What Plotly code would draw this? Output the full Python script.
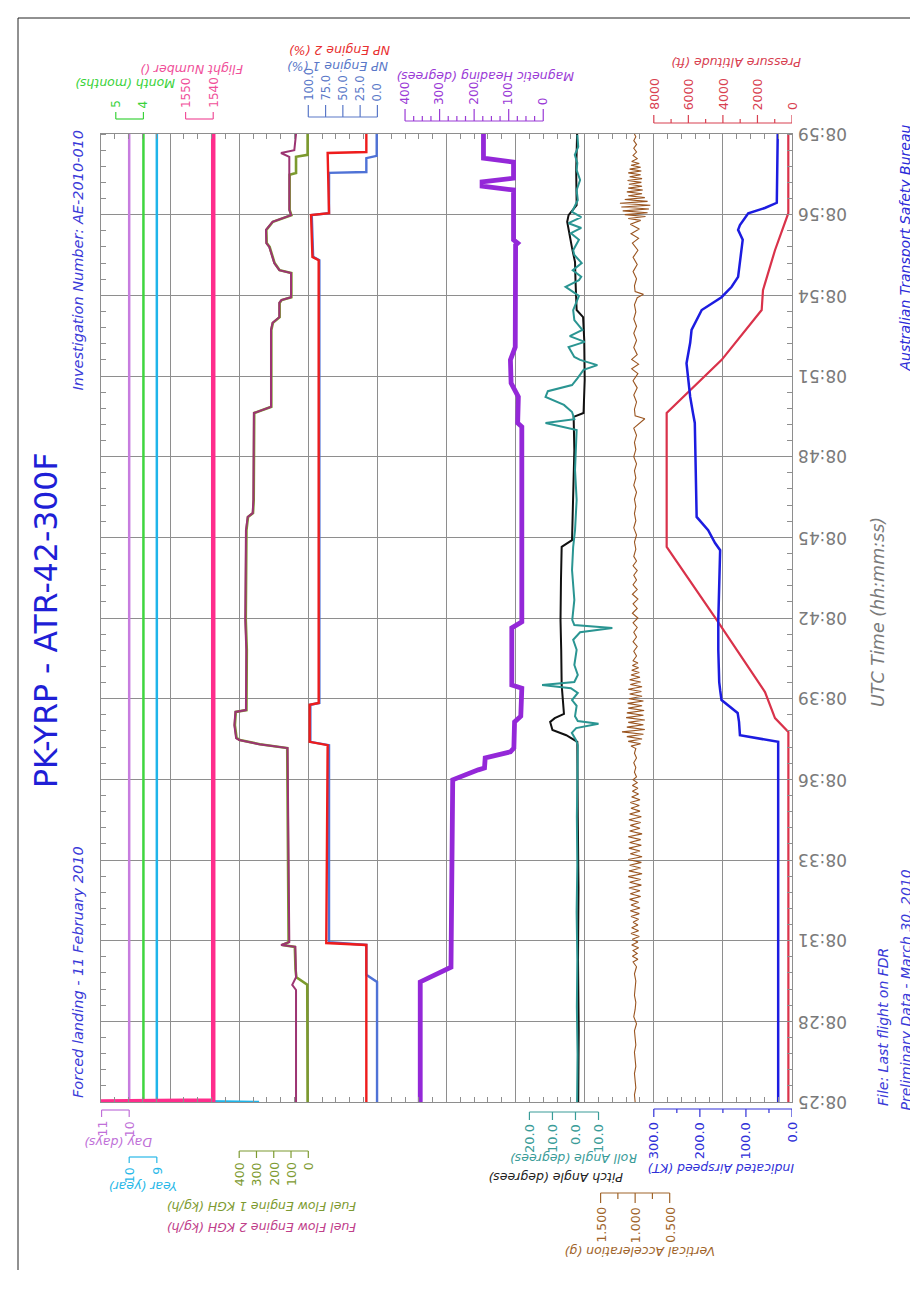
import plotly.graph_objects as go

# ---------------- time axis (seconds after 08:25) ----------------
TIME_TICKS_S = [0, 170, 340, 510, 680, 850, 1020, 1190, 1360, 1530, 1700, 1870, 2040]
TIME_LABELS = ["08:25", "08:28", "08:31", "08:33", "08:36", "08:39", "08:42",
               "08:45", "08:48", "08:51", "08:54", "08:56", "08:59"]

# ---------------- recorded parameters: (seconds, value) ----------------
DAY_DAYS = [(0, 10), (2040, 10)]
YEAR_YEAR = [(0, 5.3), (3, 9), (2040, 9)]
MONTH_MONTHS = [(0, 4), (2040, 4)]
FLIGHT_NUMBER = [(0, 1600), (3, 1540), (2040, 1540)]

FUEL_FLOW_ENG1 = [(0, 4), (247, 6), (263, 69), (280, 74), (327, 78), (331, 150), (337, 114),
                  (426, 115), (636, 121), (746, 122), (754, 280), (763, 396), (767, 415),
                  (794, 425), (822, 420), (826, 358), (953, 356), (1016, 362), (1205, 358),
                  (1233, 349), (1241, 320), (1269, 316), (1452, 313), (1458, 270), (1465, 214),
                  (1627, 214), (1642, 205), (1654, 166), (1684, 166), (1690, 154), (1696, 98),
                  (1747, 98), (1753, 166), (1768, 195), (1802, 224), (1810, 241), (1838, 243),
                  (1855, 205), (1863, 137), (1869, 98), (1880, 108), (1954, 108), (1958, 71),
                  (1992, 71), (1996, 4), (2040, 4)]
FUEL_FLOW_ENG2 = [(0, 71), (236, 71), (247, 93), (263, 71), (327, 75), (331, 158), (337, 110),
                  (426, 113), (636, 119), (746, 120), (754, 284), (763, 400), (767, 418),
                  (794, 428), (822, 422), (826, 361), (953, 359), (1016, 365), (1205, 361),
                  (1233, 351), (1241, 322), (1269, 318), (1452, 315), (1458, 272), (1465, 216),
                  (1627, 216), (1642, 207), (1654, 168), (1684, 168), (1690, 156), (1696, 100),
                  (1747, 100), (1753, 168), (1768, 197), (1802, 226), (1810, 243), (1838, 245),
                  (1855, 207), (1863, 139), (1869, 100), (1880, 110), (1985, 110), (1992, 110),
                  (2000, 158), (2006, 81), (2040, 71)]

NP_ENG1 = [(0, 0.5), (253, 0.5), (268, 16), (331, 16), (337, 70), (752, 70), (759, 97),
           (837, 97), (841, 84), (1774, 84), (1781, 93), (1869, 95), (1873, 70), (1958, 70),
           (1960, 16), (1989, 16), (1994, 1), (2040, 1)]
NP_ENG2 = [(0, 16), (331, 16), (335, 74), (752, 72), (759, 98), (837, 98), (841, 85),
           (1774, 85), (1781, 94), (1869, 96), (1873, 70), (2000, 72), (2002, 16), (2040, 16)]

MAG_HEADING = [(0, 356), (253, 356), (284, 267), (400, 265), (550, 263), (674, 262), (679, 262),
               (700, 188), (704, 170), (725, 168), (738, 95), (746, 85), (801, 83), (813, 65),
               (872, 62), (879, 91), (999, 91), (1012, 62), (1200, 62), (1423, 62), (1431, 74),
               (1486, 72), (1515, 93), (1564, 95), (1591, 81), (1806, 80), (1810, 74), (1817, 86),
               (1922, 86), (1930, 177), (1939, 177), (1947, 86), (1981, 86), (1989, 173), (2040, 173)]

PITCH_DEG = [(0, -1.2), (150, -1.4), (300, -1.1), (450, -1.3), (600, -1.0), (759, -0.8), (773, 4),
             (784, 10), (801, 11), (809, 9), (818, 5), (847, 5.5), (879, 6), (953, 6.2), (1016, 6.5),
             (1100, 6.3), (1170, 6.0), (1184, 1.5), (1269, 1.0), (1374, 0.5), (1444, 0.8),
             (1452, -3.5), (1522, -4), (1606, -3.8), (1654, -3.3), (1669, -0.5), (1732, 0),
             (1770, 0.2), (1800, 1.5), (1855, 3.6), (1869, 3.0), (1890, -0.5), (1964, -0.3), (2040, -0.7)]

ROLL_DEG = [(0, -0.7), (100, -0.9), (200, -0.6), (300, -0.8), (400, -0.5), (500, -0.8), (600, -0.6),
            (700, -0.7), (752, -1.0), (763, -0.2), (778, 1.6), (788, -0.3), (797, -10), (803, -1.0),
            (813, 0.2), (835, -0.5), (847, 1.5), (862, -1.0), (872, 2), (879, 14.5), (885, 0.5),
            (900, -1.0), (921, 0.5), (953, -0.5), (974, 1.0), (990, -2), (999, -16), (1005, 0.5),
            (1016, 1.4), (1058, 0.5), (1121, 1.5), (1170, 1.0), (1205, 0.2), (1269, -0.5), (1332, 0.2),
            (1416, -0.5), (1431, 13), (1439, 0.5), (1454, 1.5), (1469, 5), (1486, 13), (1498, 12),
            (1511, 1.5), (1526, -1), (1543, -3.5), (1553, -9.5), (1564, -2), (1570, 0.5), (1591, 3),
            (1602, -4), (1614, 2.5), (1627, -3), (1648, 0.5), (1669, 1.0), (1699, -1.5), (1718, 4.3),
            (1732, -1.5), (1739, -2.5), (1753, 1.2), (1768, -2.7), (1785, 0.5), (1795, 1.0),
            (1817, -1.5), (1831, 2.0), (1842, -2.5), (1852, 3.0), (1865, -2.5), (1876, 1.5),
            (1886, 0.5), (1901, -1.0), (1922, -0.5), (1943, -2.0), (1964, -0.5), (1979, -0.8),
            (1996, 0.3), (2013, -1.2), (2038, -0.8)]

VERT_ACCEL_G = [
    (0, 1.00), (15, 1.01), (30, 0.99), (45, 1.00), (60, 1.01), (75, 0.99), (90, 1.00), (105, 1.01),
    (120, 0.99), (135, 1.00), (150, 1.01), (165, 0.98), (180, 1.02), (195, 1.00), (210, 0.99),
    (225, 1.01), (240, 1.00), (255, 0.99), (270, 1.01), (285, 0.98),
    (295, 1.03), (301, 0.96), (307, 1.04), (313, 0.97), (319, 1.03), (325, 0.95), (331, 1.05),
    (337, 0.96), (343, 1.04), (349, 0.94), (355, 1.06), (361, 0.95), (367, 1.05), (373, 0.96),
    (379, 1.03), (385, 0.95), (391, 1.06), (397, 0.94), (403, 1.07), (409, 0.93), (415, 1.06),
    (421, 0.95), (427, 1.08), (433, 0.92), (439, 1.07), (445, 0.93), (451, 1.09), (457, 0.91),
    (463, 1.08), (469, 0.92), (475, 1.10), (481, 0.90), (487, 1.09), (493, 0.92), (499, 1.08),
    (505, 0.91), (511, 1.10), (517, 0.90), (523, 1.07), (529, 0.93), (535, 1.09), (541, 0.91),
    (547, 1.08), (553, 0.92), (559, 1.10), (565, 0.90), (571, 1.08), (577, 0.93), (583, 1.07),
    (589, 0.92), (595, 1.09), (601, 0.91), (607, 1.08), (613, 0.93), (619, 1.06), (625, 0.94),
    (631, 1.07), (637, 0.93), (643, 1.05), (649, 0.95), (655, 1.04), (661, 0.96), (667, 1.04),
    (673, 0.97), (679, 1.03), (685, 0.98),
    (695, 1.01), (705, 0.99), (715, 1.02), (725, 0.98), (735, 1.01), (745, 0.99),
    (750, 1.06), (755, 0.92), (760, 1.10), (765, 0.90), (770, 1.12), (775, 0.88), (780, 1.19),
    (785, 0.86), (790, 1.12), (795, 0.88), (800, 1.10), (805, 0.86), (810, 1.13), (815, 0.88),
    (820, 1.12), (825, 0.87), (830, 1.10), (835, 0.90), (840, 1.11), (845, 0.88), (850, 1.09),
    (855, 0.90), (860, 1.08), (865, 0.91), (870, 1.10), (875, 0.90), (880, 1.07), (885, 0.92),
    (890, 1.08), (895, 0.93), (900, 1.06), (905, 0.94), (910, 1.05), (915, 0.95), (920, 1.04),
    (925, 0.96), (930, 1.03),
    (940, 0.98), (950, 1.02), (960, 0.97), (970, 1.03), (980, 0.98), (990, 1.02), (1000, 0.97),
    (1010, 1.03), (1020, 0.96), (1030, 1.04), (1040, 0.97), (1050, 1.03), (1060, 0.96), (1070, 1.04),
    (1080, 0.97), (1090, 1.03), (1100, 0.98), (1110, 1.02), (1120, 0.97), (1130, 1.03), (1140, 0.98),
    (1150, 1.02), (1165, 0.99), (1180, 1.01), (1195, 0.98), (1210, 1.02), (1225, 0.99), (1240, 1.01),
    (1255, 0.99), (1270, 1.01), (1285, 0.98), (1300, 1.02), (1315, 0.99), (1330, 1.01), (1345, 0.98),
    (1360, 1.02), (1375, 0.99), (1390, 1.01), (1405, 0.98), (1420, 1.02), (1440, 0.86), (1446, 1.00),
    (1460, 1.01), (1475, 0.98), (1490, 1.02), (1505, 0.97), (1520, 1.03), (1535, 0.96), (1545, 1.05),
    (1555, 0.95), (1565, 1.05), (1575, 0.97), (1590, 1.02), (1605, 0.98), (1620, 1.02), (1635, 0.98),
    (1650, 1.02), (1665, 0.99), (1680, 1.01), (1695, 0.97), (1702, 0.88), (1708, 1.00), (1720, 1.01),
    (1735, 0.98), (1750, 1.03), (1765, 0.97), (1780, 1.03), (1795, 0.96), (1810, 1.04), (1820, 0.95),
    (1830, 1.06), (1840, 0.94), (1850, 1.07), (1858, 0.92),
    (1862, 1.10), (1866, 0.85), (1870, 1.15), (1874, 0.82), (1878, 1.18), (1882, 0.80), (1886, 1.20),
    (1890, 0.78), (1894, 1.22), (1898, 0.82), (1902, 1.15), (1906, 0.86),
    (1910, 1.10), (1914, 0.90), (1918, 1.12), (1922, 0.89), (1926, 1.10), (1930, 0.90), (1934, 1.09),
    (1938, 0.91), (1942, 1.11), (1946, 0.90), (1950, 1.08), (1954, 0.92), (1958, 1.10), (1962, 0.91),
    (1966, 1.08), (1970, 0.92), (1974, 1.06), (1978, 0.94), (1982, 1.05),
    (1988, 0.97), (1995, 1.03), (2002, 0.98), (2010, 1.02), (2018, 0.98), (2026, 1.02), (2034, 0.99),
    (2040, 1.01)]

AIRSPEED_KT = [(0, 30), (759, 30), (773, 113), (801, 115), (820, 118), (847, 153), (868, 156),
               (885, 158), (953, 160), (1016, 160), (1163, 156), (1178, 167), (1205, 182), (1220, 196),
               (1233, 207), (1332, 209), (1431, 211), (1452, 215), (1486, 221), (1557, 229), (1600, 221),
               (1627, 218), (1669, 196), (1696, 153), (1718, 131), (1739, 117), (1795, 109), (1817, 107),
               (1838, 117), (1848, 113), (1873, 95), (1884, 59), (1895, 33), (2040, 31)]

PRESSURE_ALT_FT = [(0, 210), (780, 210), (809, 984), (837, 1270), (864, 1563), (1016, 4360),
                   (1170, 7255), (1452, 7255), (1564, 4070), (1669, 1755), (1711, 1680), (1795, 985),
                   (1873, 214), (2040, 214)]

# ---------------- scale brackets: tick values and labels ----------------
MONTH_TICKS, MONTH_LABELS = [5, 4], ["5", "4"]
FLIGHT_TICKS, FLIGHT_LABELS = [1550, 1540], ["1550", "1540"]
NP_TICKS, NP_LABELS = [100, 75, 50, 25, 0], ["100.0", "75.0", "50.0", "25.0", "0.0"]
HDG_TICKS, HDG_LABELS = [400, 300, 200, 100, 0], ["400", "300", "200", "100", "0"]
HDG_MINOR = [375, 350, 325, 275, 250, 225, 175, 150, 125, 75, 50, 25]
ALT_TICKS, ALT_LABELS = [8000, 6000, 4000, 2000, 0], ["8000", "6000", "4000", "2000", "0"]
ALT_MINOR = [7000, 5000, 3000, 1000]
DAY_TICKS, DAY_LABELS = [11, 10], ["11", "10"]
YEAR_TICKS, YEAR_LABELS = [10, 9], ["10", "9"]
FF_TICKS, FF_LABELS = [400, 300, 200, 100, 0], ["400", "300", "200", "100", "0"]
ROLL_TICKS, ROLL_LABELS = [20, 10, 0, -10], ["20.0", "10.0", "0.0", "10.0"]
IAS_TICKS, IAS_LABELS = [300, 200, 100, 0], ["300.0", "200.0", "100.0", "0.0"]
IAS_MINOR = [250, 150, 50]
VA_TICKS, VA_LABELS = [1.5, 1.0, 0.5], ["1.500", "1.000", "0.500"]
VA_MINOR = [1.25, 0.75]

# ---------------- layout helpers (page pixel -> paper) ----------------
OFF = 8                      # page body margin around the figure
W, H = 918 - OFF, 1262
PL, PR, PT, PB = 101, 792, 134, 1102   # plot area in page pixels


def py(y):
    return (PB - y) / (PB - PT)


def px(x):
    return (x - PL) / (PR - PL)


FONT = "DejaVu Sans"
GRID = "#8e8e8e"

fig = go.Figure()

# base axis "x" = pressure altitude (also carries the grid); others overlay it
AXES = {
    "x2": [11.02, -13.98],   # day
    "x3": [11.02, -13.98],   # year
    "x4": [5.535, -19.465],  # month
    "x5": [1580.6, 1330.6],  # flight number
    "x6": [1200, -2800],     # fuel flow
    "x7": [400, -600],       # NP
    "x8": [1280, -720],      # heading
    "x9": [206, -94],        # roll / pitch
    "x10": [8.73, -1.27],    # vertical acceleration
    "x11": [1500, 0],        # airspeed
}

TRACES = [
    (PRESSURE_ALT_FT, "x", None, 0),
    (DAY_DAYS, "x2", "#c77ddf", 2.5),
    (MONTH_MONTHS, "x4", "#3fd63f", 2.5),
    (YEAR_YEAR, "x3", "#1fb5ea", 2.5),
    (FLIGHT_NUMBER, "x5", "#ff2d8c", 4.5),
    (FUEL_FLOW_ENG1, "x6", "#7c9a2e", 2.6),
    (FUEL_FLOW_ENG2, "x6", "#9c3472", 2.0),
    (NP_ENG1, "x7", "#4f72d6", 2.4),
    (NP_ENG2, "x7", "#ee1c1c", 2.4),
    (MAG_HEADING, "x8", "#9428d8", 4.8),
    (PITCH_DEG, "x9", "#111111", 2.0),
    (ROLL_DEG, "x9", "#2a9592", 2.0),
    (VERT_ACCEL_G, "x10", "#9a5520", 1.1),
    (AIRSPEED_KT, "x11", "#1c1ce0", 2.5),
    (PRESSURE_ALT_FT, "x", "#d9324a", 2.2),
]

for data, ax, color, width in TRACES:
    t = [p[0] for p in data]
    v = [p[1] for p in data]
    if color is None:
        # base subplot carrier (invisible); the visible altitude copy is drawn last
        fig.add_trace(go.Scatter(x=v, y=t, xaxis=ax, yaxis="y", mode="lines",
                                 line=dict(color="rgba(0,0,0,0)", width=0.1),
                                 hoverinfo="skip", showlegend=False))
        continue
    fig.add_trace(go.Scatter(x=v, y=t, xaxis=ax, yaxis="y", mode="lines",
                             line=dict(color=color, width=width), hoverinfo="skip",
                             showlegend=False))

layout = dict(
    width=W, height=H,
    margin=dict(l=PL - OFF, r=(W + OFF) - PR, t=PT - OFF, b=(H + OFF) - PB, pad=0),
    paper_bgcolor="white", plot_bgcolor="rgba(0,0,0,0)", showlegend=False,
    xaxis=dict(range=[40000, 0], tickmode="linear", tick0=0, dtick=4000, showgrid=True,
               gridcolor=GRID, gridwidth=1, showticklabels=False, ticks="",
               showline=True, linecolor=GRID, linewidth=1, mirror="allticks", zeroline=False,
               minor=dict(tick0=0, dtick=800, ticks="inside", ticklen=5, tickcolor=GRID,
                          showgrid=False)),
    yaxis=dict(range=[0, 2040], tickmode="array", tickvals=TIME_TICKS_S, showgrid=True,
               gridcolor=GRID, gridwidth=1, showticklabels=False, ticks="",
               showline=True, linecolor=GRID, linewidth=1, mirror="allticks", zeroline=False,
               minor=dict(tick0=0, dtick=34, ticks="inside", ticklen=5, tickcolor=GRID,
                          showgrid=False)),
)
for ax, rng in AXES.items():
    layout["xaxis" + ax[1:]] = dict(range=rng, overlaying="x", visible=False, anchor="y")
fig.update_layout(**layout)

shapes = []
annotations = []

# scale brackets: (axis, ticks, labels, minor, line_y, tick_y, minor_y, label_y, top?, color, size)
SCALES = [
    ("x4", MONTH_TICKS, MONTH_LABELS, [], 119, 112, None, 110, True, "#3ad23a", 12),
    ("x5", FLIGHT_TICKS, FLIGHT_LABELS, [], 119, 112, None, 110, True, "#f0509a", 12),
    ("x7", NP_TICKS, NP_LABELS, [], 117, 105, None, 103, True, "#5a78c8", 11.5),
    ("x8", HDG_TICKS, HDG_LABELS, HDG_MINOR, 121, 109, 116, 107, True, "#9a3ad6", 12),
    ("x", ALT_TICKS, ALT_LABELS, ALT_MINOR, 123, 115, 119, 112, True, "#d84050", 12.5),
    ("x2", DAY_TICKS, DAY_LABELS, [], 1110, 1117, None, 1119, False, "#c070d8", 12.5),
    ("x3", YEAR_TICKS, YEAR_LABELS, [], 1157, 1163, None, 1165, False, "#28b8e8", 12.5),
    ("x6", FF_TICKS, FF_LABELS, [], 1151, 1158, None, 1160, False, "#7d9a30", 12.5),
    ("x9", ROLL_TICKS, ROLL_LABELS, [], 1112, 1120, None, 1122, False, "#3a9c98", 13),
    ("x11", IAS_TICKS, IAS_LABELS, IAS_MINOR, 1109, 1117, 1113, 1120, False, "#3030d8", 13),
    ("x10", VA_TICKS, VA_LABELS, VA_MINOR, 1193, 1203, 1199, 1205, False, "#a0642a", 12.5),
]

for ax, ticks, labels, minor, ly, ty, my, lab_y, top, color, size in SCALES:
    shapes.append(dict(type="line", xref=ax, yref="paper", x0=ticks[0], x1=ticks[-1],
                       y0=py(ly), y1=py(ly), line=dict(color=color, width=1.2)))
    for tv, tl in zip(ticks, labels):
        shapes.append(dict(type="line", xref=ax, yref="paper", x0=tv, x1=tv,
                           y0=py(ly), y1=py(ty), line=dict(color=color, width=1.2)))
        annotations.append(dict(x=tv, xref=ax, y=py(lab_y), yref="paper", text=tl,
                                showarrow=False, textangle=-90, xanchor="center",
                                yanchor="bottom" if top else "top",
                                font=dict(family=FONT, size=size, color=color)))
    for mv in minor:
        shapes.append(dict(type="line", xref=ax, yref="paper", x0=mv, x1=mv,
                           y0=py(ly), y1=py(my), line=dict(color=color, width=1.2)))

# axis titles (upside down)
TITLES = [
    ("Month (months)", 125, 84, "#3ad23a"),
    ("Flight Number ()", 192, 70, "#f0509a"),
    ("NP Engine 1 (%)", 338, 67, "#5a78c8"),
    ("NP Engine 2 (%)", 340, 50, "#e83030"),
    ("Magnetic Heading (degrees)", 485, 77, "#9a3ad6"),
    ("Pressure Altitude (ft)", 736, 63, "#d84050"),
    ("Day (days)", 118, 1143, "#c070d8"),
    ("Year (year)", 143, 1187, "#28b8e8"),
    ("Fuel Flow Engine 1 KGH (kg/h)", 262, 1207, "#7d9a30"),
    ("Fuel Flow Engine 2 KGH (kg/h)", 262, 1228, "#c0408a"),
    ("Roll Angle (degrees)", 574, 1159, "#3a9c98"),
    ("Pitch Angle (degrees)", 556, 1178, "#222222"),
    ("Indicated Airspeed (KT)", 721, 1169, "#3030d8"),
    ("Vertical Acceleration (g)", 640, 1252, "#a0642a"),
]
for text, xc, yc, color in TITLES:
    annotations.append(dict(x=px(xc), xref="paper", y=py(yc), yref="paper", text=text,
                            showarrow=False, textangle=180, xanchor="center", yanchor="middle",
                            font=dict(family=FONT, size=12.5, color=color, style="italic")))

# time tick labels (upside down, right side)
for tv, tl in zip(TIME_TICKS_S, TIME_LABELS):
    annotations.append(dict(x=px(823), xref="paper", y=tv, yref="y", text=tl,
                            showarrow=False, textangle=180, xanchor="center", yanchor="middle",
                            font=dict(family=FONT, size=17, color="#7a7a7a")))

# side texts
SIDE = [
    ("PK-YRP - ATR-42-300F", 46, 620, "middle", 31.5, "#1f1fd6", "normal"),
    ("Investigation Number: AE-2010-010", 78, 128, "top", 14.5, "#3a3ad8", "italic"),
    ("Forced landing - 11 February 2010", 78, 1100, "bottom", 14.5, "#3a3ad8", "italic"),
    ("Australian Transport Safety Bureau", 905, 122, "top", 14, "#2a2ad8", "italic"),
    ("File: Last flight on FDR", 883, 1108, "bottom", 14, "#3a3ad8", "italic"),
    ("Preliminary Data - March 30, 2010", 905, 1112, "bottom", 14, "#3a3ad8", "italic"),
    ("UTC Time (hh:mm:ss)", 878, 612, "middle", 17.5, "#7a7a7a", "italic"),
]
for text, xc, yc, ya, size, color, style in SIDE:
    annotations.append(dict(x=px(xc), xref="paper", y=py(yc), yref="paper", text=text,
                            showarrow=False, textangle=-90, xanchor="center", yanchor=ya,
                            font=dict(family=FONT, size=size, color=color, style=style)))

# outer frame
shapes.append(dict(type="line", xref="paper", yref="paper", x0=px(18), x1=px(18),
                   y0=py(18), y1=py(1320), line=dict(color="#222222", width=1)))
shapes.append(dict(type="line", xref="paper", yref="paper", x0=px(18), x1=px(940),
                   y0=py(18), y1=py(18), line=dict(color="#222222", width=1)))

fig.update_layout(shapes=shapes, annotations=annotations)
fig.write_html("out.html")
